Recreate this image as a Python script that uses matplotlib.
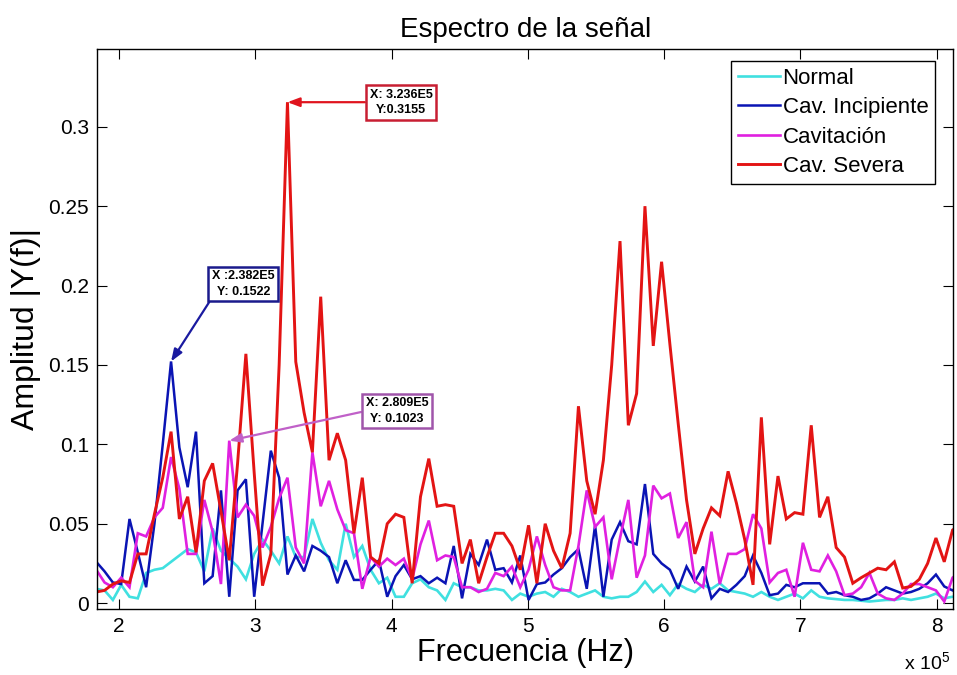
import numpy as np
import matplotlib
matplotlib.use("Agg")
import matplotlib.pyplot as plt
from matplotlib import font_manager

# ---------------- data ----------------
# frequency bins (kHz)
freq_khz = [183.3, 189.4, 195.5, 201.6, 207.7, 213.8, 219.9, 226.0, 232.1,
            238.2, 244.3, 250.4, 256.5, 262.6, 268.7, 274.8, 280.9, 287.0, 293.1,
            299.2, 305.3, 311.4, 317.5, 323.6, 329.7, 335.8, 341.9, 348.0, 354.1,
            360.2, 366.3, 372.4, 378.5, 384.6, 390.7, 396.8, 402.9, 409.0, 415.1,
            421.2, 427.3, 433.4, 439.5, 445.6, 451.7, 457.8, 463.9, 470.0, 476.1,
            482.2, 488.3, 494.4, 500.5, 506.6, 512.7, 518.8, 524.9, 531.0, 537.1,
            543.2, 549.3, 555.4, 561.5, 567.6, 573.7, 579.8, 585.9, 592.0, 598.1,
            604.2, 610.3, 616.4, 622.5, 628.6, 634.7, 640.8, 646.9, 653.0, 659.1,
            665.2, 671.3, 677.4, 683.5, 689.6, 695.7, 701.8, 707.9, 714.0, 720.1,
            726.2, 732.3, 738.4, 744.5, 750.6, 756.7, 762.8, 768.9, 775.0, 781.1,
            787.2, 793.3, 799.4, 805.5, 811.6, 817.7]

normal = [0.009, 0.008, 0.002, 0.0115, 0.004, 0.003, 0.019, 0.021, 0.022,
          0.026, 0.030, 0.034, 0.032, 0.020, 0.047, 0.033, 0.028, 0.023, 0.015,
          0.031, 0.040, 0.033, 0.025, 0.042, 0.029, 0.029, 0.053, 0.038, 0.027,
          0.021, 0.050, 0.029, 0.036, 0.021, 0.0125, 0.016, 0.004, 0.004, 0.0125,
          0.015, 0.010, 0.008, 0.002, 0.0125, 0.010, 0.010, 0.008, 0.008, 0.009,
          0.008, 0.002, 0.006, 0.004, 0.006, 0.007, 0.004, 0.009, 0.007, 0.004,
          0.006, 0.008, 0.004, 0.003, 0.004, 0.004, 0.007, 0.0136, 0.007, 0.0115,
          0.005, 0.012, 0.009, 0.007, 0.0115, 0.009, 0.0125, 0.008, 0.007, 0.006,
          0.004, 0.007, 0.004, 0.002, 0.004, 0.006, 0.003, 0.008, 0.004, 0.003,
          0.0025, 0.002, 0.002, 0.0015, 0.001, 0.0015, 0.002, 0.002, 0.003, 0.002,
          0.003, 0.004, 0.006, 0.003, 0.004, 0.004]

incipiente = [0.026, 0.020, 0.013, 0.012, 0.053, 0.032, 0.010, 0.050, 0.100,
              0.1522, 0.098, 0.073, 0.108, 0.0125, 0.017, 0.071, 0.004, 0.071, 0.078,
              0.004, 0.050, 0.096, 0.079, 0.018, 0.030, 0.020, 0.036, 0.033, 0.029,
              0.0125, 0.027, 0.0146, 0.0146, 0.021, 0.027, 0.004, 0.017, 0.024, 0.015,
              0.017, 0.0125, 0.016, 0.0125, 0.036, 0.003, 0.031, 0.024, 0.040, 0.021,
              0.022, 0.013, 0.030, 0.002, 0.012, 0.013, 0.018, 0.022, 0.029, 0.034,
              0.009, 0.049, 0.004, 0.040, 0.051, 0.039, 0.037, 0.075, 0.031, 0.025,
              0.021, 0.009, 0.023, 0.0136, 0.023, 0.003, 0.009, 0.007, 0.0115, 0.017,
              0.030, 0.019, 0.005, 0.006, 0.0115, 0.010, 0.0125, 0.0125, 0.0125, 0.006,
              0.007, 0.005, 0.004, 0.002, 0.003, 0.006, 0.010, 0.008, 0.006, 0.007,
              0.009, 0.0125, 0.018, 0.0105, 0.008, 0.012]

cavitacion = [0.021, 0.013, 0.010, 0.016, 0.010, 0.044, 0.042, 0.054, 0.060,
              0.092, 0.072, 0.031, 0.031, 0.065, 0.045, 0.012, 0.1023, 0.054, 0.062,
              0.055, 0.035, 0.048, 0.066, 0.079, 0.035, 0.025, 0.095, 0.061, 0.077,
              0.059, 0.046, 0.044, 0.009, 0.029, 0.023, 0.028, 0.024, 0.028, 0.015,
              0.037, 0.052, 0.027, 0.030, 0.029, 0.010, 0.010, 0.007, 0.009, 0.019,
              0.017, 0.023, 0.010, 0.021, 0.042, 0.024, 0.010, 0.008, 0.008, 0.036,
              0.071, 0.048, 0.054, 0.015, 0.041, 0.065, 0.016, 0.030, 0.074, 0.066,
              0.069, 0.041, 0.051, 0.014, 0.010, 0.045, 0.012, 0.031, 0.031, 0.034,
              0.056, 0.047, 0.013, 0.019, 0.021, 0.004, 0.038, 0.021, 0.020, 0.030,
              0.020, 0.005, 0.006, 0.010, 0.019, 0.006, 0.003, 0.002, 0.006, 0.012,
              0.012, 0.010, 0.008, 0.001, 0.016, 0.020]

severa = [0.007, 0.008, 0.012, 0.014, 0.013, 0.031, 0.031, 0.056, 0.079,
          0.108, 0.053, 0.067, 0.032, 0.077, 0.088, 0.058, 0.027, 0.088, 0.157,
          0.082, 0.011, 0.031, 0.150, 0.3155, 0.152, 0.120, 0.095, 0.193, 0.090,
          0.107, 0.090, 0.044, 0.079, 0.029, 0.025, 0.050, 0.056, 0.054, 0.0125,
          0.067, 0.091, 0.061, 0.062, 0.061, 0.025, 0.040, 0.0125, 0.029, 0.044,
          0.044, 0.036, 0.021, 0.049, 0.0125, 0.050, 0.033, 0.022, 0.044, 0.124,
          0.077, 0.056, 0.090, 0.150, 0.228, 0.112, 0.132, 0.250, 0.162, 0.215,
          0.163, 0.113, 0.065, 0.031, 0.047, 0.060, 0.055, 0.083, 0.063, 0.040,
          0.0115, 0.117, 0.037, 0.080, 0.053, 0.057, 0.056, 0.112, 0.054, 0.067,
          0.035, 0.029, 0.0125, 0.016, 0.019, 0.022, 0.021, 0.026, 0.0095, 0.0105,
          0.015, 0.025, 0.041, 0.026, 0.046, 0.050]

series_labels = ["Normal", "Cav. Incipiente", "Cavitación", "Cav. Severa"]
x_ticks = [2, 3, 4, 5, 6, 7, 8]
x_tick_labels = ["2", "3", "4", "5", "6", "7", "8"]
y_ticks = [0, 0.05, 0.1, 0.15, 0.2, 0.25, 0.3]
y_tick_labels = ["0", "0.05", "0.1", "0.15", "0.2", "0.25", "0.3"]

# data tips: (series index, bin index, text)
tip_series = [1, 2, 3]
tip_bins = [9, 16, 23]
tip_texts = ["X :2.382E5\nY: 0.1522", "X: 2.809E5\nY: 0.1023", "X: 3.236E5\nY:0.3155"]

# ---------------- style ----------------
def has_font(name):
    try:
        font_manager.findfont(font_manager.FontProperties(family=name),
                              fallback_to_default=False)
        return True
    except Exception:
        return False

main_font = "Liberation Sans" if has_font("Liberation Sans") else "DejaVu Sans"
narrow_font = "Liberation Sans Narrow" if has_font("Liberation Sans Narrow") else None
plt.rcParams["font.family"] = [main_font, "DejaVu Sans"]
plt.rcParams["mathtext.default"] = "regular"

line_colors = ["#40e0e0", "#0a14b4", "#e020e0", "#e31414"]
line_widths = [1.9, 1.8, 1.9, 2.1]
tip_box_colors = ["#1a1a8c", "#a055aa", "#c81e32"]
tip_arrow_colors = ["#1a1aa0", "#c060c8", "#e0141e"]
tip_text_pos = [(2.913, 0.201), (4.040, 0.121), (4.069, 0.3155)]
tip_relpos = [(0.0, 0.0), (0.0, 0.5), (0.0, 0.5)]

fig = plt.figure(figsize=(9.57, 6.75), dpi=100)
ax = fig.add_axes([0.1017, 0.0978, 0.8941, 0.8296])

x = np.array(freq_khz) / 100.0  # units of 1e5 Hz
all_series = [normal, incipiente, cavitacion, severa]
lines = []
for vals, lab, c, lw in zip(all_series, series_labels, line_colors, line_widths):
    ln, = ax.plot(x, vals, color=c, lw=lw, label=lab, solid_joinstyle="miter")
    lines.append(ln)

ax.set_xlim(1.841, 8.119)
ax.set_ylim(-0.0037, 0.349)
ax.set_xticks(x_ticks)
ax.set_xticklabels(x_tick_labels)
ax.set_yticks(y_ticks)
ax.set_yticklabels(y_tick_labels)
ax.tick_params(direction="in", top=True, right=True, length=7, width=0.8,
               labelsize=15, pad=6)
for sp in ax.spines.values():
    sp.set_linewidth(1.0)

ax.set_title("Espectro de la señal", fontsize=20, pad=9)
ax.set_xlabel("Frecuencia (Hz)", fontsize=22, labelpad=1)
ax.set_ylabel("Amplitud |Y(f)|", fontsize=23, labelpad=5)
ax.text(0.9965, -0.095, "x 10$^5$", transform=ax.transAxes, ha="right", va="center",
        fontsize=14)

leg = ax.legend(handles=lines, loc="upper right", bbox_to_anchor=(0.979, 0.9786),
                borderaxespad=0, fontsize=16, frameon=True, fancybox=False,
                edgecolor="black", framealpha=1, handlelength=1.9,
                handletextpad=0.12, labelspacing=0.38, borderpad=0.3)
leg.get_frame().set_linewidth(1.0)

# data tips
if narrow_font:
    tip_font = dict(family=narrow_font, fontsize=10.5, fontweight="bold")
else:
    tip_font = dict(family=main_font, fontsize=9, fontweight="bold")
for si, bi, txt, bc, ac, tp, rp in zip(tip_series, tip_bins, tip_texts, tip_box_colors,
                                        tip_arrow_colors, tip_text_pos, tip_relpos):
    px, py = x[bi], all_series[si][bi]
    ax.annotate(txt, xy=(px, py), xytext=tp, textcoords="data",
                ha="center", va="center", multialignment="center",
                linespacing=1.35,
                bbox=dict(boxstyle="square,pad=0.3", fc="white", ec=bc, lw=1.8),
                arrowprops=dict(arrowstyle="-|>,head_length=0.8,head_width=0.3",
                                color=ac, lw=1.6, shrinkA=0, shrinkB=0, relpos=rp),
                zorder=10, **tip_font)

fig.savefig("out.png", dpi=100)
